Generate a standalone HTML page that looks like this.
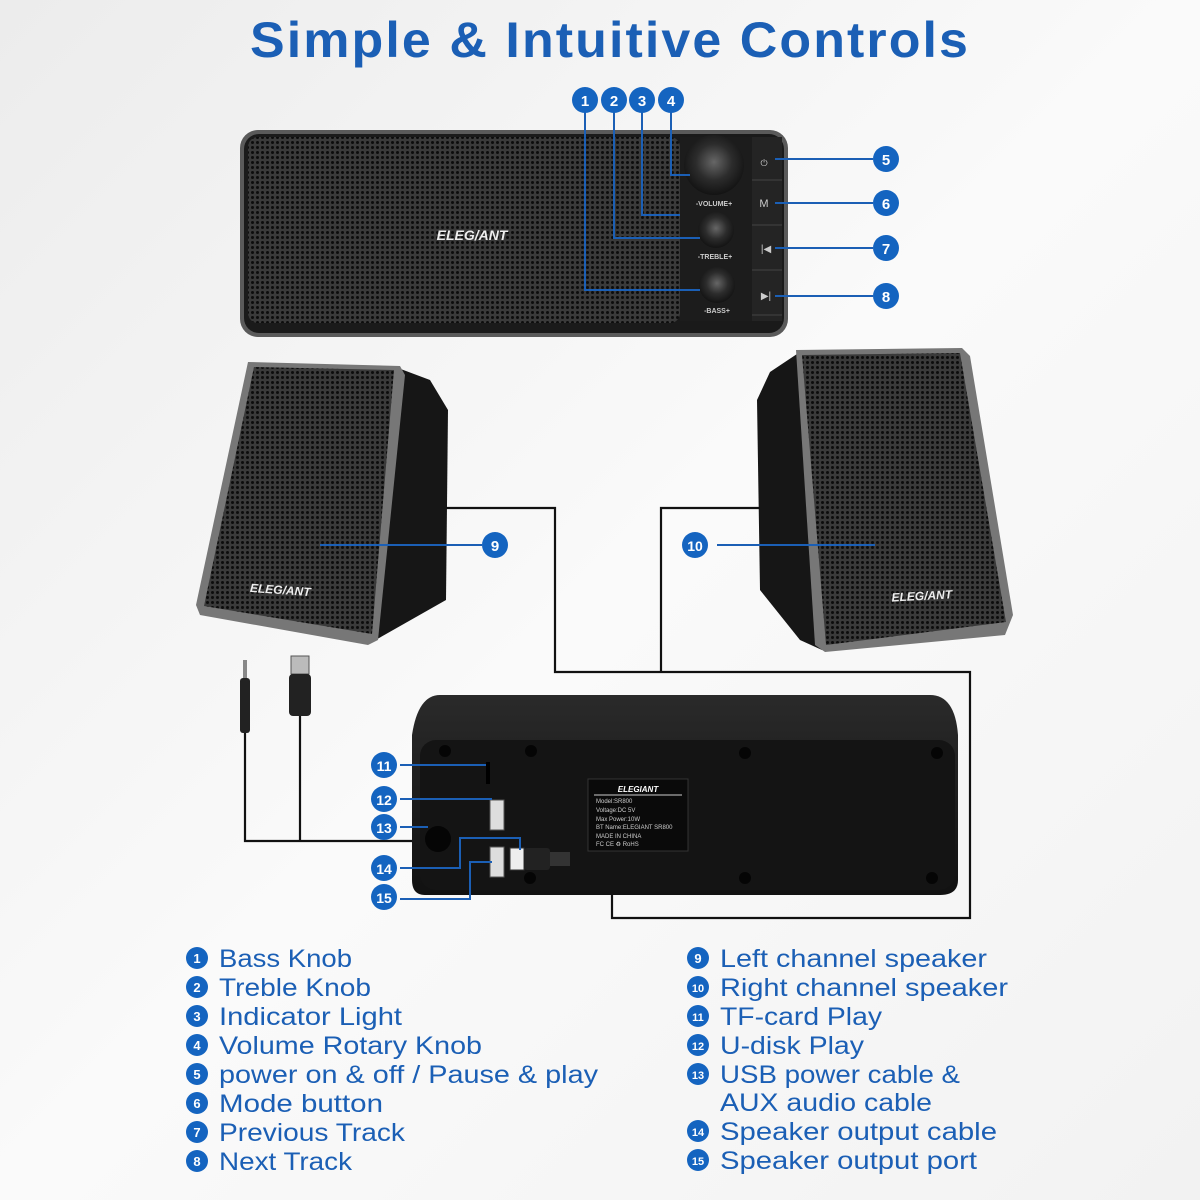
<!DOCTYPE html>
<html><head><meta charset="utf-8"><style>
html,body{margin:0;padding:0;width:1200px;height:1200px;overflow:hidden;background:#f3f3f3}
svg{display:block}
</style></head><body>
<svg width="1200" height="1200" viewBox="0 0 1200 1200" xmlns="http://www.w3.org/2000/svg" font-family="Liberation Sans, sans-serif">
<defs>
<linearGradient id="bg" x1="0" y1="0" x2="1" y2="1"><stop offset="0" stop-color="#ececec"/><stop offset="0.5" stop-color="#fafafa"/><stop offset="1" stop-color="#f2f2f2"/></linearGradient>
<pattern id="mesh" width="5" height="5" patternUnits="userSpaceOnUse"><rect width="5" height="5" fill="#3a3a3a"/><circle cx="2.5" cy="2.5" r="1.5" fill="#0c0c0c"/></pattern>
<radialGradient id="knob" cx="0.5" cy="0.45" r="0.6"><stop offset="0" stop-color="#666"/><stop offset="0.5" stop-color="#2c2c2c"/><stop offset="1" stop-color="#0e0e0e"/></radialGradient>
<linearGradient id="back" x1="0" y1="0" x2="0" y2="1"><stop offset="0" stop-color="#2a2a2a"/><stop offset="1" stop-color="#111"/></linearGradient>
</defs>
<rect width="1200" height="1200" fill="url(#bg)"/>
<text x="610" y="57" text-anchor="middle" font-size="50" font-weight="bold" fill="#1b5fb5" letter-spacing="2" textLength="720" lengthAdjust="spacingAndGlyphs">Simple &amp; Intuitive Controls</text>

<!-- soundbar -->
<rect x="240" y="130" width="548" height="207" rx="18" fill="#5a5a5a"/>
<rect x="244" y="134" width="540" height="199" rx="15" fill="#1a1a1a"/>
<rect x="248" y="137" width="432" height="186" rx="10" fill="url(#mesh)"/>
<rect x="680" y="137" width="72" height="184" fill="#1c1c1c"/>
<rect x="752" y="137" width="30" height="184" fill="#242424"/>
<line x1="752" y1="180" x2="782" y2="180" stroke="#444"/><line x1="752" y1="225" x2="782" y2="225" stroke="#444"/><line x1="752" y1="270" x2="782" y2="270" stroke="#444"/><line x1="752" y1="315" x2="782" y2="315" stroke="#444"/>
<circle cx="714" cy="165" r="30" fill="url(#knob)"/>
<circle cx="716" cy="230" r="18" fill="url(#knob)"/>
<circle cx="717" cy="285" r="18" fill="url(#knob)"/>
<text x="714" y="206" text-anchor="middle" font-size="7" fill="#ccc" font-weight="bold">-VOLUME+</text>
<text x="715" y="259" text-anchor="middle" font-size="7" fill="#ccc" font-weight="bold">-TREBLE+</text>
<text x="717" y="313" text-anchor="middle" font-size="7" fill="#ccc" font-weight="bold">-BASS+</text>
<text x="764" y="166" text-anchor="middle" font-size="9" fill="#ccc">⏻</text>
<text x="764" y="207" text-anchor="middle" font-size="11" fill="#ccc">M</text>
<text x="766" y="252" text-anchor="middle" font-size="10" fill="#ccc">|◀</text>
<text x="766" y="299" text-anchor="middle" font-size="10" fill="#ccc">▶|</text>
<text x="472" y="240" text-anchor="middle" font-size="14" font-style="italic" font-weight="bold" fill="#eee">ELEG/ANT</text>

<g stroke="#1b5fb5" stroke-width="2" fill="none">
<polyline points="585,112 585,290 700,290"/>
<polyline points="614,112 614,238 700,238"/>
<polyline points="642,112 642,215 680,215"/>
<polyline points="671,112 671,175 690,175"/>
<line x1="775" y1="159" x2="873" y2="159"/>
<line x1="775" y1="203" x2="873" y2="203"/>
<line x1="775" y1="248" x2="873" y2="248"/>
<line x1="775" y1="296" x2="873" y2="296"/>
</g>

<!-- left speaker -->
<polygon points="398,368 430,380 448,410 446,600 372,642 350,640" fill="#161616"/>
<polygon points="248,362 400,366 405,375 378,640 368,645 200,615 196,605" fill="#777"/>
<polygon points="254,367 394,370 372,634 204,606" fill="url(#mesh)"/>
<text x="280" y="594" text-anchor="middle" font-size="12" font-style="italic" font-weight="bold" fill="#eee" transform="rotate(4 280 594)">ELEG/ANT</text>

<!-- right speaker -->
<polygon points="800,352 770,372 757,400 760,590 800,640 822,650" fill="#161616"/>
<polygon points="796,350 962,348 970,356 1013,615 1005,635 825,652 815,645" fill="#777"/>
<polygon points="802,355 960,353 1006,622 826,645" fill="url(#mesh)"/>
<text x="922" y="600" text-anchor="middle" font-size="12" font-style="italic" font-weight="bold" fill="#eee" transform="rotate(-3 922 600)">ELEG/ANT</text>

<g stroke="#111" stroke-width="2.2" fill="none">
<polyline points="446,508 555,508 555,672 970,672 970,918 612,918 612,858 570,858"/>
<polyline points="760,508 661,508 661,672"/>
<polyline points="245,730 245,841 430,841"/>
<polyline points="300,715 300,841"/>
</g>
<rect x="243" y="660" width="4" height="18" fill="#888"/>
<rect x="240" y="678" width="10" height="55" rx="3" fill="#222"/>
<rect x="291" y="656" width="18" height="18" fill="#bbb" stroke="#555"/>
<rect x="289" y="674" width="22" height="42" rx="4" fill="#222"/>

<!-- back unit -->
<path d="M440,695 H930 Q955,695 958,735 L958,880 Q958,895 940,895 H425 Q412,895 412,880 L412,735 Q418,695 440,695 Z" fill="url(#back)"/>
<rect x="420" y="740" width="535" height="150" rx="16" fill="#141414"/>
<g fill="#050505">
<circle cx="445" cy="751" r="6"/><circle cx="531" cy="751" r="6"/><circle cx="745" cy="753" r="6"/><circle cx="937" cy="753" r="6"/>
<circle cx="530" cy="878" r="6"/><circle cx="745" cy="878" r="6"/><circle cx="932" cy="878" r="6"/>
<circle cx="438" cy="839" r="13"/>
</g>
<rect x="486" y="762" width="4" height="22" fill="#000"/>
<rect x="490" y="800" width="14" height="30" fill="#ddd" stroke="#555"/>
<rect x="490" y="847" width="14" height="30" fill="#ddd" stroke="#555"/>
<rect x="510" y="848" width="14" height="22" fill="#eee" stroke="#333"/>
<rect x="524" y="848" width="26" height="22" rx="3" fill="#222"/>
<rect x="550" y="852" width="20" height="14" fill="#333"/>
<rect x="588" y="779" width="100" height="72" fill="#0a0a0a" stroke="#333"/>
<text x="638" y="792" text-anchor="middle" font-size="8" font-style="italic" font-weight="bold" fill="#fff">ELEGIANT</text>
<line x1="594" y1="795" x2="682" y2="795" stroke="#ccc"/>
<g font-size="6" fill="#ccc"><text x="596" y="803">Model:SR800</text><text x="596" y="812">Voltage:DC 5V</text><text x="596" y="821">Max Power:10W</text><text x="596" y="829">BT Name:ELEGIANT SR800</text><text x="596" y="838">MADE IN CHINA</text><text x="596" y="846">FC CE ♻ RoHS</text></g>

<g stroke="#1b5fb5" stroke-width="2" fill="none">
<line x1="400" y1="765" x2="486" y2="765"/>
<line x1="400" y1="799" x2="492" y2="799"/>
<line x1="400" y1="827" x2="428" y2="827"/>
<polyline points="400,868 460,868 460,838 520,838 520,850"/>
<polyline points="400,899 470,899 470,862 492,862"/>
<line x1="320" y1="545" x2="482" y2="545"/>
<line x1="717" y1="545" x2="875" y2="545"/>
</g>

<g font-weight="bold" font-size="15" fill="#fff" text-anchor="middle">
<g fill="#1464c0"><circle cx="585" cy="100" r="13"/><circle cx="614" cy="100" r="13"/><circle cx="642" cy="100" r="13"/><circle cx="671" cy="100" r="13"/>
<circle cx="886" cy="159" r="13"/><circle cx="886" cy="203" r="13"/><circle cx="886" cy="248" r="13"/><circle cx="886" cy="296" r="13"/>
<circle cx="495" cy="545" r="13"/><circle cx="695" cy="545" r="13"/>
<circle cx="384" cy="765" r="13"/><circle cx="384" cy="799" r="13"/><circle cx="384" cy="827" r="13"/><circle cx="384" cy="868" r="13"/><circle cx="384" cy="897" r="13"/></g>
<text x="585" y="106">1</text><text x="614" y="106">2</text><text x="642" y="106">3</text><text x="671" y="106">4</text>
<text x="886" y="165">5</text><text x="886" y="209">6</text><text x="886" y="254">7</text><text x="886" y="302">8</text>
<text x="495" y="551">9</text><text x="695" y="551" font-size="14">10</text>
<text x="384" y="771" font-size="14">11</text><text x="384" y="805" font-size="14">12</text><text x="384" y="833" font-size="14">13</text><text x="384" y="874" font-size="14">14</text><text x="384" y="903" font-size="14">15</text>
</g>

<g font-size="25" fill="#1b5fb5">
<g fill="#1464c0">
<circle cx="197" cy="958" r="11"/><circle cx="197" cy="987" r="11"/><circle cx="197" cy="1016" r="11"/><circle cx="197" cy="1045" r="11"/><circle cx="197" cy="1074" r="11"/><circle cx="197" cy="1103" r="11"/><circle cx="197" cy="1132" r="11"/><circle cx="197" cy="1161" r="11"/>
<circle cx="698" cy="958" r="11"/><circle cx="698" cy="987" r="11"/><circle cx="698" cy="1016" r="11"/><circle cx="698" cy="1045" r="11"/><circle cx="698" cy="1074" r="11"/><circle cx="698" cy="1131" r="11"/><circle cx="698" cy="1160" r="11"/>
</g>
<g font-size="13" fill="#fff" text-anchor="middle" font-weight="bold">
<text x="197" y="963">1</text><text x="197" y="992">2</text><text x="197" y="1021">3</text><text x="197" y="1050">4</text><text x="197" y="1079">5</text><text x="197" y="1108">6</text><text x="197" y="1137">7</text><text x="197" y="1166">8</text>
<text x="698" y="963">9</text><text x="698" y="992" font-size="11">10</text><text x="698" y="1021" font-size="11">11</text><text x="698" y="1050" font-size="11">12</text><text x="698" y="1079" font-size="11">13</text><text x="698" y="1136" font-size="11">14</text><text x="698" y="1165" font-size="11">15</text>
</g>
<text x="219" y="967" textLength="133" lengthAdjust="spacingAndGlyphs">Bass Knob</text>
<text x="219" y="996" textLength="152" lengthAdjust="spacingAndGlyphs">Treble Knob</text>
<text x="219" y="1025" textLength="183" lengthAdjust="spacingAndGlyphs">Indicator Light</text>
<text x="219" y="1054" textLength="263" lengthAdjust="spacingAndGlyphs">Volume Rotary Knob</text>
<text x="219" y="1083" textLength="379" lengthAdjust="spacingAndGlyphs">power on &amp; off / Pause &amp; play</text>
<text x="219" y="1112" textLength="164" lengthAdjust="spacingAndGlyphs">Mode button</text>
<text x="219" y="1141" textLength="186" lengthAdjust="spacingAndGlyphs">Previous Track</text>
<text x="219" y="1170" textLength="133" lengthAdjust="spacingAndGlyphs">Next Track</text>
<text x="720" y="967" textLength="267" lengthAdjust="spacingAndGlyphs">Left channel speaker</text>
<text x="720" y="996" textLength="288" lengthAdjust="spacingAndGlyphs">Right channel speaker</text>
<text x="720" y="1025" textLength="162" lengthAdjust="spacingAndGlyphs">TF-card Play</text>
<text x="720" y="1054" textLength="144" lengthAdjust="spacingAndGlyphs">U-disk Play</text>
<text x="720" y="1083" textLength="240" lengthAdjust="spacingAndGlyphs">USB power cable &amp;</text>
<text x="720" y="1111" textLength="212" lengthAdjust="spacingAndGlyphs">AUX audio cable</text>
<text x="720" y="1140" textLength="277" lengthAdjust="spacingAndGlyphs">Speaker output cable</text>
<text x="720" y="1169" textLength="257" lengthAdjust="spacingAndGlyphs">Speaker output port</text>
</g>
</svg>
</body></html>
